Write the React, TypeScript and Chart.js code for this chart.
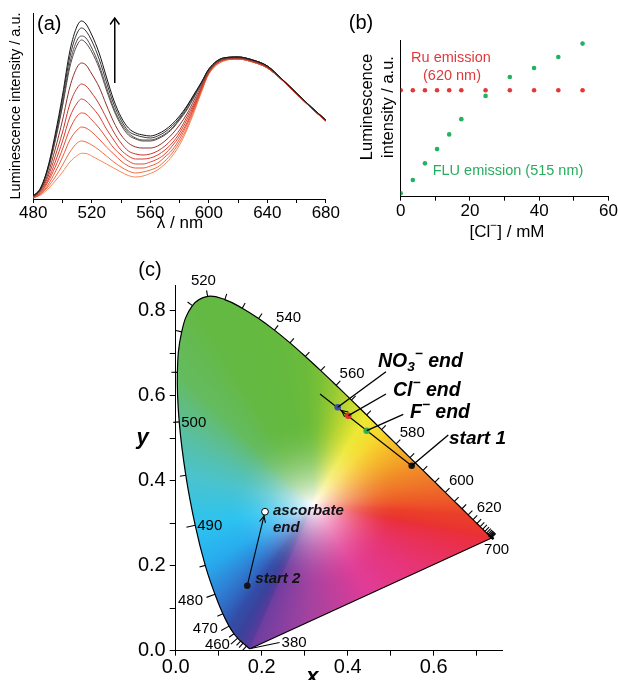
import React, { useEffect, useRef } from 'react';
import { Chart, registerables } from 'chart.js';

Chart.register(...registerables);

const FONT = '"Liberation Sans", Arial, Helvetica, sans-serif';

// ---------------- Panel (a): emission spectra ----------------
const wavelengthNm = [480, 485, 490, 495, 500, 505, 510, 513, 516, 520, 525, 530, 535, 540, 545, 550, 555, 560, 565, 570, 575, 580, 585, 590, 595, 600, 610, 620, 630, 640, 650, 660, 670, 680];
const spectrum1 = [3, 11, 32, 65, 104, 148, 173, 178, 175, 164, 146, 122, 99, 82, 71, 66, 64, 63, 65, 69, 75, 83, 93, 105, 117, 130, 141, 142, 139, 133, 120, 106, 92, 79];
const spectrum2 = [3, 11, 31, 62, 100, 142, 166, 171, 168, 158, 140, 117, 95, 79, 68, 64, 62, 61, 63, 67, 73, 81, 92, 104, 116, 130, 141, 142, 139, 133, 120, 106, 92, 79];
const spectrum3 = [3, 10, 30, 60, 95, 136, 159, 163, 161, 151, 134, 112, 91, 76, 66, 61, 59, 59, 61, 65, 71, 80, 90, 103, 116, 129, 141, 142, 139, 133, 120, 106, 92, 79];
const spectrum4 = [3, 10, 29, 58, 93, 132, 154, 159, 156, 147, 131, 109, 89, 74, 64, 60, 58, 58, 60, 64, 70, 79, 89, 102, 116, 129, 140, 142, 139, 133, 120, 106, 92, 79];
const spectrum5 = [2, 9, 25, 50, 79, 112, 132, 136, 134, 125, 112, 94, 77, 64, 56, 52, 51, 51, 53, 58, 65, 74, 85, 99, 114, 128, 140, 141, 138, 132, 120, 106, 92, 79];
const spectrum6 = [2, 8, 22, 43, 67, 95, 111, 115, 113, 106, 95, 81, 67, 56, 48, 45, 44, 45, 48, 53, 60, 69, 82, 96, 112, 128, 140, 141, 138, 132, 119, 105, 91, 78];
const spectrum7 = [2, 7, 19, 37, 58, 82, 96, 100, 98, 92, 83, 70, 59, 49, 43, 40, 40, 41, 44, 49, 56, 66, 79, 94, 111, 127, 139, 141, 138, 132, 119, 105, 91, 78];
const spectrum8 = [2, 6, 17, 32, 50, 70, 83, 86, 85, 79, 71, 61, 51, 44, 38, 35, 35, 37, 40, 45, 53, 63, 76, 92, 110, 126, 139, 140, 137, 131, 119, 105, 91, 78];
const spectrum9 = [1, 5, 14, 27, 42, 59, 69, 72, 71, 67, 60, 52, 45, 38, 33, 31, 31, 33, 36, 42, 49, 60, 74, 91, 109, 126, 139, 140, 137, 131, 119, 105, 91, 78];
const spectrum10 = [1, 5, 12, 22, 34, 47, 56, 58, 57, 54, 49, 43, 37, 32, 28, 26, 27, 29, 32, 38, 46, 57, 71, 89, 108, 125, 138, 140, 137, 131, 119, 105, 91, 78];
const spectrum11 = [1, 4, 10, 18, 27, 37, 43.5, 45.7, 45.5, 43, 39, 35, 31, 27, 23.5, 22, 23, 25.5, 29, 35, 43, 54, 69, 87, 107, 125, 138, 140, 137, 131, 119, 105, 91, 78];
const spectra = [spectrum1, spectrum2, spectrum3, spectrum4, spectrum5, spectrum6, spectrum7, spectrum8, spectrum9, spectrum10, spectrum11];
const spectrumColors = ['#161616', '#383838', '#505050', '#5e4842', '#8e3329', '#c2392d', '#da3e2e', '#e54a33', '#eb5a3a', '#ef6d45', '#f28a58'];
const xTicksA = [480, 520, 560, 600, 640, 680];
const riseArrowNm = 535.7;
const riseArrowFrom = 116;
const riseArrowTo = 181;

// ---------------- Panel (b): intensity vs [Cl-] ----------------
const chlorideMM = [0, 3.5, 7, 10.5, 14, 17.5, 24.5, 31.5, 38.5, 45.5, 52.5];
const ruEmission = [106.7, 106.7, 106.7, 106.7, 106.7, 106.7, 106.7, 106.7, 106.7, 106.7, 106.7];
const fluEmission = [3.4, 16.7, 33.4, 47.7, 62.4, 77.7, 101, 120, 129, 140, 153.4];
const xTicksB = [0, 20, 40, 60];

// ---------------- Panel (c): CIE 1931 chromaticity ----------------
const locusNm = [380, 390, 400, 410, 420, 430, 440, 450, 455, 460, 465, 470, 475, 480, 485, 490, 495, 500, 505, 510, 515, 520, 525, 530, 535, 540, 545, 550, 555, 560, 565, 570, 575, 580, 585, 590, 595, 600, 605, 610, 615, 620, 625, 630, 635, 640, 645, 650, 655, 660, 665, 670, 680, 690, 700];
const locusX = [0.1741, 0.1738, 0.1733, 0.1726, 0.1714, 0.1689, 0.1644, 0.1566, 0.1510, 0.1440, 0.1355, 0.1241, 0.1096, 0.0913, 0.0687, 0.0454, 0.0235, 0.0082, 0.0039, 0.0139, 0.0389, 0.0743, 0.1142, 0.1547, 0.1929, 0.2296, 0.2658, 0.3016, 0.3373, 0.3731, 0.4087, 0.4441, 0.4788, 0.5125, 0.5448, 0.5752, 0.6029, 0.6270, 0.6482, 0.6658, 0.6801, 0.6915, 0.7006, 0.7079, 0.7140, 0.7190, 0.7230, 0.7260, 0.7283, 0.7300, 0.7311, 0.7320, 0.7334, 0.7344, 0.7347];
const locusY = [0.0050, 0.0049, 0.0048, 0.0048, 0.0051, 0.0069, 0.0109, 0.0177, 0.0227, 0.0297, 0.0399, 0.0578, 0.0868, 0.1327, 0.2007, 0.2950, 0.4127, 0.5384, 0.6548, 0.7502, 0.8120, 0.8338, 0.8262, 0.8059, 0.7816, 0.7543, 0.7243, 0.6923, 0.6589, 0.6245, 0.5896, 0.5547, 0.5202, 0.4866, 0.4544, 0.4242, 0.3965, 0.3725, 0.3514, 0.3340, 0.3197, 0.3083, 0.2993, 0.2920, 0.2859, 0.2809, 0.2770, 0.2740, 0.2717, 0.2700, 0.2689, 0.2680, 0.2666, 0.2656, 0.2653];
const labeledNm = [380, 460, 470, 480, 490, 500, 520, 540, 560, 580, 600, 620, 700];
const markerNames = ['start 1', 'F⁻ end', 'Cl⁻ end', 'NO₃⁻ end', 'start 2', 'ascorbate end'];
const markerX = [0.5488, 0.4442, 0.4014, 0.3767, 0.1665, 0.2077];
const markerY = [0.4353, 0.5176, 0.5529, 0.5727, 0.153, 0.327];
const trendX = [0.5488, 0.3356];
const trendY = [0.4353, 0.604];
const trendTipX = 0.3856;
const trendTipY = 0.5652;
const xTicksC = [0, 0.2, 0.4, 0.6];

// ---------------- styles ----------------
const markerColors = ['#141414', '#2fb050', '#e8302a', '#3c4ea6', '#141414'];
const HUE_ANCHORS = [
  [380, 108, 62, 160], [440, 82, 60, 155], [460, 58, 66, 156], [470, 50, 78, 168], [478, 48, 115, 205],
  [485, 40, 172, 238], [490, 45, 195, 240], [495, 75, 195, 205], [500, 92, 190, 150], [505, 100, 187, 95],
  [515, 100, 185, 68], [540, 100, 185, 62], [552, 108, 188, 58], [558, 135, 196, 52], [564, 185, 213, 48],
  [570, 238, 232, 52], [576, 247, 215, 45], [582, 245, 175, 40], [590, 240, 135, 40], [600, 238, 100, 40],
  [615, 235, 62, 42], [640, 233, 52, 48], [700, 233, 48, 56],
];
const PURPLE_STOPS = [
  [0.1, 233, 48, 78], [0.3, 231, 52, 118], [0.5, 225, 60, 150], [0.75, 165, 66, 160],
];
const WHITE_POINT = [0.32, 0.345];
const WHITE_RGB = [255, 252, 252];

function hueAt(nm: number): number[] {
  const A = HUE_ANCHORS;
  if (nm <= A[0][0]) return A[0].slice(1);
  for (let i = 1; i < A.length; i++) {
    if (nm <= A[i][0]) {
      const t = (nm - A[i - 1][0]) / (A[i][0] - A[i - 1][0]);
      return [1, 2, 3].map((k) => A[i - 1][k] + (A[i][k] - A[i - 1][k]) * t);
    }
  }
  return A[A.length - 1].slice(1);
}

function drawText(ctx: any, text: string, x: number, y: number, font: string, color = '#000', align: any = 'center', baseline: any = 'middle', rot = 0) {
  ctx.save();
  ctx.translate(x, y);
  if (rot) ctx.rotate(rot);
  ctx.font = font;
  ctx.fillStyle = color;
  ctx.textAlign = align;
  ctx.textBaseline = baseline;
  ctx.fillText(text, 0, 0);
  ctx.restore();
}

type Part = { t: string; sup?: boolean; sub?: boolean };
function drawRich(ctx: any, parts: Part[], x: number, y: number, size: number, style: string, align: 'left' | 'center', color = '#000') {
  const fnt = (s: number) => `${style} ${s}px ${FONT}`;
  const sz = (p: Part) => (p.sup || p.sub ? size * 0.7 : size);
  let total = 0;
  const widths = parts.map((p) => {
    ctx.font = fnt(sz(p));
    const w = ctx.measureText(p.t).width;
    total += w;
    return w;
  });
  let cx = align === 'center' ? x - total / 2 : x;
  ctx.save();
  ctx.fillStyle = color;
  ctx.textBaseline = 'middle';
  ctx.textAlign = 'left';
  parts.forEach((p, i) => {
    ctx.font = fnt(sz(p));
    const dy = p.sup ? -size * 0.36 : p.sub ? size * 0.3 : 0;
    ctx.fillText(p.t, cx, y + dy);
    cx += widths[i];
  });
  ctx.restore();
}

function arrowHead(ctx: any, tipX: number, tipY: number, fromX: number, fromY: number, len: number, half: number) {
  const a = Math.atan2(tipY - fromY, tipX - fromX);
  ctx.beginPath();
  ctx.moveTo(tipX - len * Math.cos(a - half), tipY - len * Math.sin(a - half));
  ctx.lineTo(tipX, tipY);
  ctx.lineTo(tipX - len * Math.cos(a + half), tipY - len * Math.sin(a + half));
  ctx.stroke();
}

function axisStyle(tickLen: number) {
  return {
    grid: { display: true, drawOnChartArea: false, drawTicks: true, tickLength: tickLen, color: '#000', lineWidth: 1 },
    border: { display: true, color: '#000', width: 1 },
  };
}

// ---------------- plugins ----------------
const panelAPlugin = {
  id: 'panelA',
  afterDraw(chart: any) {
    const { ctx, chartArea: ca, scales } = chart;
    drawText(ctx, '(a)', ca.left + 16, 24, `20px ${FONT}`);
    drawText(ctx, 'Luminescence intensity / a.u.', 16, (ca.top + ca.bottom) / 2, `14.5px ${FONT}`, '#000', 'center', 'middle', -Math.PI / 2);
    drawText(ctx, 'λ / nm', 180, 223, `17px ${FONT}`);
    const ax = scales.x.getPixelForValue(riseArrowNm);
    const y0 = scales.y.getPixelForValue(riseArrowFrom);
    const y1 = scales.y.getPixelForValue(riseArrowTo);
    ctx.save();
    ctx.strokeStyle = '#000';
    ctx.lineWidth = 1.5;
    ctx.beginPath();
    ctx.moveTo(ax, y0);
    ctx.lineTo(ax, y1);
    ctx.stroke();
    arrowHead(ctx, ax, y1, ax, y0, 8, 0.62);
    ctx.restore();
  },
};

const panelBPlugin = {
  id: 'panelB',
  afterDraw(chart: any) {
    const { ctx } = chart;
    drawText(ctx, '(b)', 21, 23, `20px ${FONT}`);
    drawText(ctx, 'Luminescence', 27, 107, `16.5px ${FONT}`, '#000', 'center', 'middle', -Math.PI / 2);
    drawText(ctx, 'intensity / a.u.', 48, 107, `16.5px ${FONT}`, '#000', 'center', 'middle', -Math.PI / 2);
    drawRich(ctx, [{ t: '[Cl' }, { t: '−', sup: true }, { t: '] / mM' }], 167, 232, 17, 'normal', 'center');
    drawText(ctx, 'Ru emission', 111, 58, `14.5px ${FONT}`, '#e0393a');
    drawText(ctx, '(620 nm)', 112, 76, `14.5px ${FONT}`, '#e0393a');
    drawText(ctx, 'FLU emission (515 nm)', 168, 171, `14.5px ${FONT}`, '#27ad5f');
  },
};

function buildGamut(chart: any) {
  const ca = chart.chartArea;
  const xs = chart.scales.x;
  const ys = chart.scales.y;
  const x0 = Math.floor(ca.left);
  const y0 = Math.floor(ca.top);
  const w = Math.ceil(ca.right) - x0;
  const h = Math.ceil(ca.bottom) - y0;
  const verts: number[][] = [];
  locusNm.forEach((nm, i) => verts.push([locusX[i], locusY[i], ...hueAt(nm)]));
  const a = verts[verts.length - 1];
  const b = verts[0];
  PURPLE_STOPS.forEach((s) => verts.push([a[0] + (b[0] - a[0]) * s[0], a[1] + (b[1] - a[1]) * s[0], s[1], s[2], s[3]]));
  const N = 1440;
  const R = new Float32Array(N);
  const C = new Float32Array(N * 3);
  const [wx0, wy0] = WHITE_POINT;
  for (let k = 0; k < N; k++) {
    const th = (k + 0.5) / N * Math.PI * 2 - Math.PI;
    const dx = Math.cos(th);
    const dy = Math.sin(th);
    let best = Infinity;
    for (let i = 0; i < verts.length; i++) {
      const p = verts[i];
      const q = verts[(i + 1) % verts.length];
      const ex = q[0] - p[0];
      const ey = q[1] - p[1];
      const den = dx * ey - dy * ex;
      if (Math.abs(den) < 1e-12) continue;
      const wx = p[0] - wx0;
      const wy = p[1] - wy0;
      const t = (wx * ey - wy * ex) / den;
      const u = (wx * dy - wy * dx) / den;
      if (t > 0 && u >= -1e-9 && u <= 1 + 1e-9 && t < best) {
        best = t;
        for (let c = 0; c < 3; c++) C[k * 3 + c] = p[2 + c] + (q[2 + c] - p[2 + c]) * u;
      }
    }
    R[k] = best;
  }
  const off = document.createElement('canvas');
  off.width = w;
  off.height = h;
  const octx = off.getContext('2d')!;
  const img = octx.createImageData(w, h);
  for (let j = 0; j < h; j++) {
    const vy = ys.getValueForPixel(y0 + j + 0.5);
    for (let i = 0; i < w; i++) {
      const vx = xs.getValueForPixel(x0 + i + 0.5);
      const dx = vx - wx0;
      const dy = vy - wy0;
      const th = Math.atan2(dy, dx);
      let k = Math.floor((th + Math.PI) / (Math.PI * 2) * N);
      if (k >= N) k = N - 1;
      if (k < 0) k = 0;
      const d = Math.sqrt(dx * dx + dy * dy);
      const s = d / (R[k] || 1);
      const m = Math.min(1, Math.max(d / 0.2, s));
      const f = 1 - (1 - m) * (1 - m);
      const o = (j * w + i) * 4;
      img.data[o] = WHITE_RGB[0] * (1 - f) + C[k * 3] * f;
      img.data[o + 1] = WHITE_RGB[1] * (1 - f) + C[k * 3 + 1] * f;
      img.data[o + 2] = WHITE_RGB[2] * (1 - f) + C[k * 3 + 2] * f;
      img.data[o + 3] = 255;
    }
  }
  octx.putImageData(img, 0, 0);
  return { canvas: off, x0, y0 };
}

const MARKER_LAYOUT = [
  { lead: [36.6, -30.7], text: [0.7, 3.3], size: 19, style: 'italic bold' },
  { lead: [36.6, -16.4], text: [6.7, -1.6], size: 19.5, style: 'italic bold' },
  { lead: [37.7, -21.7], text: [7, -3.3], size: 19.5, style: 'italic bold' },
  { lead: [48.3, -35.6], text: [-8, -10], size: 19.5, style: 'italic bold' },
];

function richParts(name: string): Part[] {
  if (name === 'NO₃⁻ end') return [{ t: 'NO' }, { t: '3', sub: true }, { t: '−', sup: true }, { t: ' end' }];
  const m = name.match(/^(\w+)⁻(.*)$/);
  if (m) return [{ t: m[1] }, { t: '−', sup: true }, { t: m[2] }];
  return [{ t: name }];
}

const LOCUS_DATASET = 4;

function traceLocus(ctx: any, chart: any) {
  const pts = chart.getDatasetMeta(LOCUS_DATASET).data;
  ctx.beginPath();
  pts.forEach((p: any, i: number) => {
    if (i === 0) ctx.moveTo(p.x, p.y);
    else {
      const pr = pts[i - 1];
      if (pr.cp2x !== undefined && p.cp1x !== undefined) ctx.bezierCurveTo(pr.cp2x, pr.cp2y, p.cp1x, p.cp1y, p.x, p.y);
      else ctx.lineTo(p.x, p.y);
    }
  });
  ctx.closePath();
}

const panelCPlugin = {
  id: 'panelC',
  beforeDatasetsDraw(chart: any) {
    const { ctx } = chart;
    let g = chart.$gamut;
    if (!g) {
      g = buildGamut(chart);
      chart.$gamut = g;
    }
    ctx.save();
    traceLocus(ctx, chart);
    ctx.clip();
    ctx.drawImage(g.canvas, g.x0, g.y0);
    ctx.restore();
  },
  afterDatasetsDraw(chart: any) {
    const { ctx, scales, chartArea: ca } = chart;
    const px = (i: number) => ({ x: scales.x.getPixelForValue(locusX[i]), y: scales.y.getPixelForValue(locusY[i]) });
    ctx.save();
    ctx.strokeStyle = '#000';
    ctx.lineWidth = 1.1;
    const labFont = `15px ${FONT}`;
    ctx.font = labFont;
    locusNm.forEach((nm, i) => {
      if (nm < 440 || nm === 700) return;
      const p = px(i);
      const pr = px(Math.max(0, i - 1));
      const nx = px(Math.min(locusNm.length - 1, i + 1));
      let tx = nx.x - pr.x;
      let ty = nx.y - pr.y;
      const tl = Math.hypot(tx, ty) || 1;
      tx /= tl;
      ty /= tl;
      const n = { x: ty, y: -tx };
      const isLab = labeledNm.includes(nm);
      const len = isLab && nm >= 460 && nm <= 490 ? 9 : 6;
      ctx.beginPath();
      ctx.moveTo(p.x, p.y);
      ctx.lineTo(p.x + n.x * len, p.y + n.y * len);
      ctx.stroke();
      if (!isLab) return;
      const txt = String(nm);
      if (nm === 490 || nm === 500) {
        drawText(ctx, txt, p.x + 2, p.y + 1, labFont, '#000', 'left');
        return;
      }
      ctx.font = labFont;
      const wdt = ctx.measureText(txt).width;
      const capH = 10.8;
      const gap = 4.5;
      let cx = p.x + n.x * (len + gap) + n.x * wdt / 2;
      let cy = p.y + n.y * (len + gap) + n.y * capH / 2;
      if (nm <= 470) { cy -= 6; cx -= 1; }
      drawText(ctx, txt, cx, cy, labFont);
    });
    // 700 and 380 labels
    const p700 = px(locusNm.length - 1);
    ctx.lineWidth = 2.5;
    ctx.beginPath();
    ctx.moveTo(p700.x - 3, p700.y - 3);
    ctx.lineTo(p700.x + 2, p700.y + 1);
    ctx.stroke();
    drawText(ctx, '700', p700.x + 5, p700.y + 12, labFont);
    const p380 = px(0);
    ctx.lineWidth = 1.1;
    ctx.beginPath();
    ctx.moveTo(p380.x, p380.y);
    ctx.lineTo(p380.x + 29, p380.y - 6);
    ctx.stroke();
    drawText(ctx, '380', p380.x + 31, p380.y - 6, labFont, '#000', 'left');

    // arrowheads
    ctx.lineWidth = 1.1;
    const tX = scales.x.getPixelForValue(trendTipX);
    const tY = scales.y.getPixelForValue(trendTipY);
    const s1x = scales.x.getPixelForValue(trendX[0]);
    const s1y = scales.y.getPixelForValue(trendY[0]);
    arrowHead(ctx, tX, tY, s1x, s1y, 7, 0.45);
    const s2x = scales.x.getPixelForValue(markerX[4]);
    const s2y = scales.y.getPixelForValue(markerY[4]);
    const aex = scales.x.getPixelForValue(markerX[5]);
    const aey = scales.y.getPixelForValue(markerY[5]);
    const dl = Math.hypot(aex - s2x, aey - s2y);
    const tipx = aex - (aex - s2x) / dl * 4.5;
    const tipy = aey - (aey - s2y) / dl * 4.5;
    arrowHead(ctx, tipx, tipy, s2x, s2y, 7, 0.45);

    // leader lines + labels
    MARKER_LAYOUT.forEach((L, i) => {
      const mx = scales.x.getPixelForValue(markerX[i]);
      const my = scales.y.getPixelForValue(markerY[i]);
      const ex = mx + L.lead[0];
      const ey = my + L.lead[1];
      ctx.lineWidth = 1.4;
      ctx.beginPath();
      ctx.moveTo(mx, my);
      ctx.lineTo(ex, ey);
      ctx.stroke();
      drawRich(ctx, richParts(markerNames[i]), ex + L.text[0], ey + L.text[1], L.size, L.style, 'left');
    });
    drawText(ctx, markerNames[4], s2x + 8, s2y - 7, `italic bold 15px ${FONT}`, '#111', 'left');
    const [w1, w2] = markerNames[5].split(' ');
    drawText(ctx, w1, aex + 8, aey - 1, `italic bold 15px ${FONT}`, '#111', 'left');
    drawText(ctx, w2, aex + 8, aey + 16.5, `italic bold 15px ${FONT}`, '#111', 'left');

    // titles
    drawText(ctx, '(c)', 150, 25, `20px ${FONT}`);
    drawText(ctx, 'y', ca.left - 33, scales.y.getPixelForValue(0.5), `italic bold 22px ${FONT}`);
    drawText(ctx, 'x', scales.x.getPixelForValue(0.318), ca.bottom + 26, `italic bold 22px ${FONT}`);
    ctx.restore();
  },
};

// ---------------- configs ----------------
function configA(): any {
  return {
    type: 'line',
    data: {
      datasets: spectra.map((s, i) => ({
        data: wavelengthNm.map((w, j) => ({ x: w, y: s[j] })),
        borderColor: spectrumColors[i],
        borderWidth: 1,
        pointRadius: 0,
        fill: false,
        cubicInterpolationMode: 'monotone',
      })),
    },
    options: {
      responsive: false,
      animation: false,
      events: [],
      layout: { padding: { top: 13, right: 13.3, left: 0, bottom: 0 }, autoPadding: false },
      plugins: { legend: { display: false }, tooltip: { enabled: false } },
      scales: {
        x: {
          type: 'linear', min: 480, max: 680,
          afterFit: (s: any) => { s.height = 41; },
          ticks: {
            stepSize: 20, autoSkip: false, maxRotation: 0, padding: 0, color: '#000',
            font: { family: FONT, size: 17 },
            callback: (v: any) => (xTicksA.includes(Number(v)) ? String(v) : ''),
          },
          ...axisStyle(4),
        },
        y: {
          min: 0, max: 186,
          afterFit: (s: any) => { s.width = 33.3; },
          ticks: { display: false },
          grid: { display: false },
          border: { display: true, color: '#000', width: 1 },
        },
      },
    },
    plugins: [panelAPlugin],
  };
}

function configB(): any {
  return {
    type: 'scatter',
    data: {
      datasets: [
        { data: chlorideMM.map((c, i) => ({ x: c, y: ruEmission[i] })), backgroundColor: '#e0393a', borderWidth: 0, pointRadius: 2.3 },
        { data: chlorideMM.map((c, i) => ({ x: c, y: fluEmission[i] })), backgroundColor: '#21b35f', borderWidth: 0, pointRadius: 2.3 },
      ],
    },
    options: {
      responsive: false,
      animation: false,
      events: [],
      layout: { padding: { top: 40, right: 8, left: 0, bottom: 0 }, autoPadding: false },
      plugins: { legend: { display: false }, tooltip: { enabled: false } },
      scales: {
        x: {
          type: 'linear', min: 0, max: 60,
          afterFit: (s: any) => { s.height = 48.3; },
          ticks: {
            stepSize: 10, autoSkip: false, maxRotation: 0, padding: 0, color: '#000',
            font: { family: FONT, size: 17 },
            callback: (v: any) => (xTicksB.includes(Number(v)) ? String(v) : ''),
          },
          ...axisStyle(4),
        },
        y: {
          min: 0, max: 157,
          afterFit: (s: any) => { s.width = 60.7; },
          ticks: { display: false },
          grid: { display: false },
          border: { display: true, color: '#000', width: 1 },
        },
      },
    },
    plugins: [panelBPlugin],
  };
}

function configC(): any {
  const tickCb = (v: any) => {
    const k = Math.round(Number(v) * 10);
    return xTicksC.some((t) => Math.round(t * 10) === k) ? (k / 10).toFixed(1) : '';
  };
  const n = locusX.length - 1;
  return {
    type: 'scatter',
    data: {
      datasets: [
        {
          data: markerX.slice(0, 5).map((x, i) => ({ x, y: markerY[i] })),
          backgroundColor: markerColors, borderWidth: 0, pointRadius: 3.3,
        },
        {
          data: [{ x: markerX[5], y: markerY[5] }],
          backgroundColor: '#ffffff', borderColor: '#000', borderWidth: 1, pointRadius: 3.4,
        },
        {
          data: trendX.map((x, i) => ({ x, y: trendY[i] })),
          showLine: true, borderColor: '#000', borderWidth: 1.1, pointRadius: 0,
        },
        {
          data: [{ x: markerX[4], y: markerY[4] }, { x: markerX[5], y: markerY[5] }],
          showLine: true, borderColor: '#000', borderWidth: 1.1, pointRadius: 0,
        },
        {
          data: locusX.map((x, i) => ({ x, y: locusY[i] })),
          showLine: true, borderColor: '#000', borderWidth: 1.2, pointRadius: 0, tension: 0.4,
        },
        {
          data: [{ x: locusX[n], y: locusY[n] }, { x: locusX[0], y: locusY[0] }],
          showLine: true, borderColor: '#000', borderWidth: 1.2, pointRadius: 0,
        },
      ],
    },
    options: {
      responsive: false,
      animation: false,
      events: [],
      layout: { padding: { top: 40.2, right: 115.5, left: 0, bottom: 0 }, autoPadding: false },
      plugins: { legend: { display: false }, tooltip: { enabled: false } },
      scales: {
        x: {
          type: 'linear', min: 0, max: 0.76,
          afterFit: (s: any) => { s.height = 29.3; },
          ticks: {
            stepSize: 0.1, includeBounds: false, autoSkip: false, maxRotation: 0, padding: 0, color: '#000',
            font: { family: FONT, size: 20 },
            callback: tickCb,
          },
          ...axisStyle(5),
        },
        y: {
          type: 'linear', min: 0, max: 0.86,
          afterFit: (s: any) => { s.width = 175.7; },
          ticks: {
            stepSize: 0.1, includeBounds: false, autoSkip: false, padding: 4, color: '#000',
            font: { family: FONT, size: 20 },
            callback: (v: any) => {
              const k = Math.round(Number(v) * 10);
              return k % 2 === 0 ? (k / 10).toFixed(1) : '';
            },
          },
          ...axisStyle(6),
        },
      },
    },
    plugins: [panelCPlugin],
  };
}

export default function App() {
  const refA = useRef<HTMLCanvasElement>(null);
  const refB = useRef<HTMLCanvasElement>(null);
  const refC = useRef<HTMLCanvasElement>(null);
  useEffect(() => {
    Chart.defaults.font.family = FONT;
    const a = new Chart(refA.current!, configA());
    const b = new Chart(refB.current!, configB());
    const c = new Chart(refC.current!, configC());
    return () => {
      a.destroy();
      b.destroy();
      c.destroy();
    };
  }, []);
  return (
    <div style={{ position: 'absolute', left: 0, top: 0, width: 618, height: 680, background: '#fff', overflow: 'hidden' }}>
      <canvas ref={refA} width={340} height={240} style={{ position: 'absolute', left: 0, top: 0, width: 340, height: 240 }} />
      <canvas ref={refB} width={278} height={245} style={{ position: 'absolute', left: 340, top: 0, width: 278, height: 245 }} />
      <canvas ref={refC} width={618} height={435} style={{ position: 'absolute', left: 0, top: 245, width: 618, height: 435 }} />
    </div>
  );
}
